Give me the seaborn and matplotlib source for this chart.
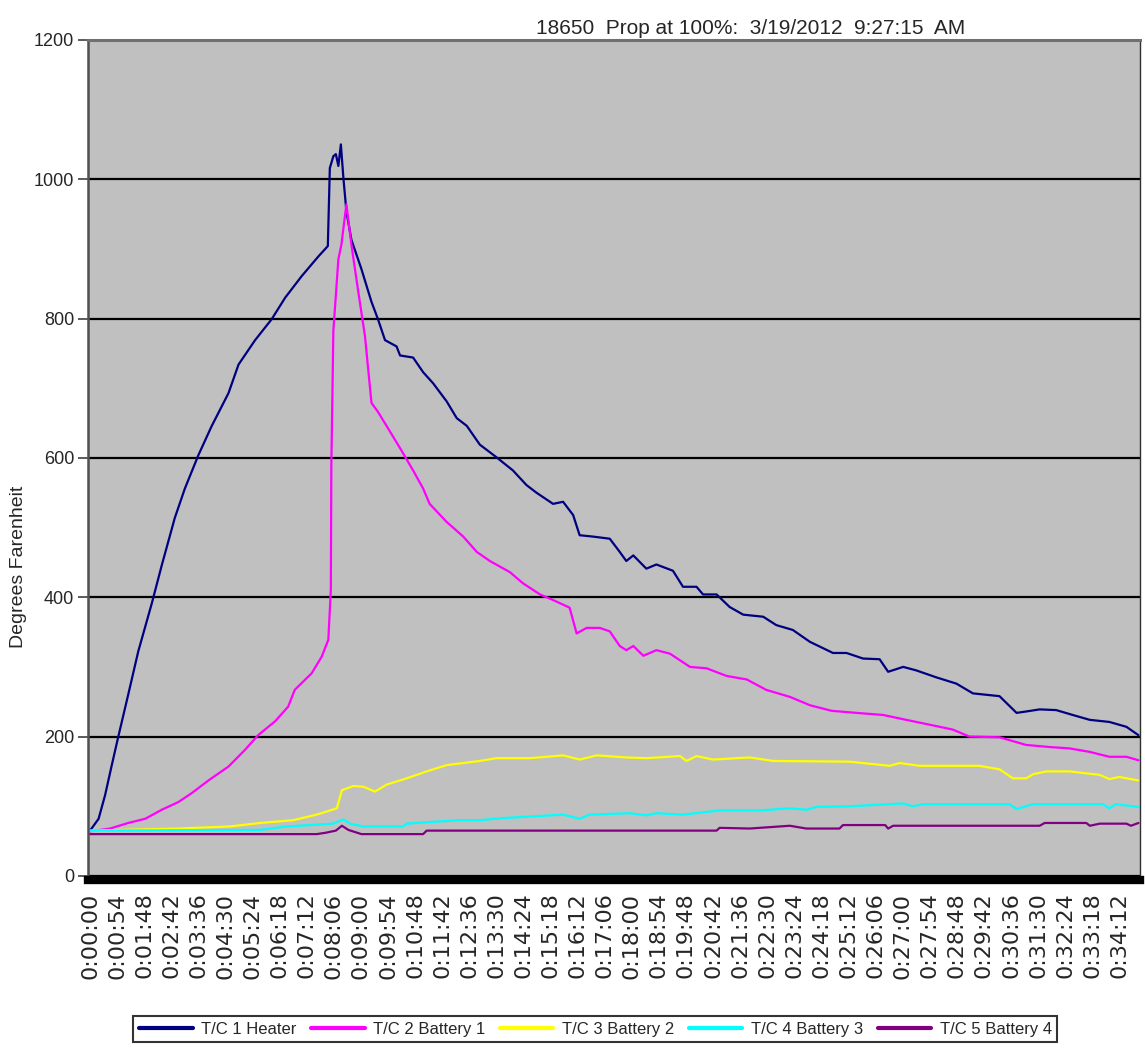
import matplotlib
matplotlib.use("Agg")
import matplotlib.pyplot as plt
import seaborn as sns
import pandas as pd

# readings: elapsed seconds and degrees F
heater_t = [0, 17, 30, 43, 56, 76, 96, 123, 143, 169, 189, 216, 242, 276, 296, 329, 362, 389, 422,
            455, 474, 478, 485, 490, 495, 500, 505, 511, 521, 541, 561, 574, 588, 611, 618, 644, 664,
            684, 711, 731, 751, 777, 810, 843, 870, 890, 923, 943, 963, 976, 1003, 1036, 1056, 1069,
            1083, 1109, 1129, 1162, 1182, 1209, 1222, 1249, 1275, 1302, 1342, 1368, 1401, 1435, 1481,
            1508, 1541, 1574, 1591, 1621, 1647, 1687, 1727, 1760, 1813, 1847, 1866, 1893, 1926, 1959,
            1993, 2032, 2066, 2090]
heater_f = [65, 82, 116, 158, 199, 260, 322, 391, 446, 514, 556, 604, 645, 693, 734, 769, 799, 830, 861,
            889, 904, 1016, 1033, 1036, 1019, 1050, 1002, 954, 913, 871, 824, 799, 769, 760, 747, 744, 723,
            707, 681, 657, 646, 619, 601, 582, 561, 550, 534, 537, 518, 489, 487, 484, 465, 452,
            460, 441, 447, 438, 415, 415, 404, 404, 386, 375, 372, 360, 353, 336, 320,
            320, 312, 311, 293, 300, 295, 285, 276, 262, 258, 234, 236, 239, 238, 231,
            224, 221, 214, 202]

batt1_t = [0, 20, 40, 76, 110, 143, 176, 203, 236, 276, 309, 335, 369, 395, 408, 442, 462, 475, 480, 481,
           485, 495, 501, 511, 521, 535, 548, 561, 574, 591, 618, 644, 664, 677, 711, 744, 771, 797, 837,
           863, 897, 923, 956, 970, 990, 1016, 1036, 1056, 1069, 1083, 1103, 1129, 1156, 1196, 1229, 1269,
           1309, 1348, 1395, 1435, 1478, 1528, 1581, 1627, 1674, 1720, 1753, 1813, 1866, 1913, 1953, 1993,
           2032, 2066, 2090]
batt1_f = [64, 66, 68, 76, 82, 95, 106, 119, 137, 157, 181, 202, 222, 243, 267, 291, 315, 339, 411, 590,
           782, 885, 906, 964, 906, 837, 775, 679, 666, 646, 614, 582, 556, 534, 508, 487, 465, 452, 436,
           420, 404, 396, 385, 348, 356, 356, 351, 330, 324, 330, 316, 324, 319, 300, 298, 287,
           282, 267, 257, 245, 237, 234, 231, 224, 217, 210, 200, 199, 188, 185, 183, 178,
           171, 171, 166]

batt2_t = [0, 176, 279, 339, 405, 452, 492, 502, 525, 545, 568, 591, 631, 671, 711, 777, 810, 877, 943,
           976, 1010, 1069, 1109, 1176, 1189, 1209, 1242, 1315, 1362, 1514, 1594, 1614, 1654, 1773, 1813,
           1840, 1866, 1880, 1906, 1953, 2013, 2032, 2052, 2090]
batt2_f = [65, 68, 71, 76, 80, 88, 97, 123, 129, 128, 121, 131, 140, 150, 159, 165, 169, 169, 173,
           167, 173, 170, 169, 172, 165, 172, 167, 170, 165, 164, 158, 162, 158, 158, 153,
           140, 140, 146, 150, 150, 145, 139, 142, 137]

batt3_t = [0, 339, 392, 484, 505, 518, 545, 624, 631, 671, 737, 777, 824, 943, 976, 996, 1076, 1109,
           1129, 1182, 1255, 1335, 1395, 1428, 1448, 1514, 1621, 1640, 1660, 1833, 1847, 1880, 2019,
           2032, 2045, 2090]
batt3_f = [65, 66, 71, 75, 81, 75, 71, 71, 75, 77, 80, 80, 83, 88, 82, 88, 90, 87,
           90, 88, 94, 94, 97, 95, 99, 100, 104, 100, 103, 103, 96, 103, 103,
           97, 103, 99]

batt4_t = [0, 452, 470, 490, 502, 515, 541, 664, 671, 1249, 1255, 1315, 1395, 1428, 1494, 1501, 1585,
           1591, 1601, 1893, 1903, 1986, 1993, 2013, 2066, 2075, 2090]
batt4_f = [60, 60, 62, 65, 72, 66, 60, 60, 65, 65, 69, 68, 72, 68, 68, 73, 73,
           68, 72, 72, 76, 76, 72, 75, 75, 72, 76]

series_names = ["T/C 1 Heater", "T/C 2 Battery 1", "T/C 3 Battery 2", "T/C 4 Battery 3", "T/C 5 Battery 4"]
series_colors = ["#000080", "#FF00FF", "#FFFF00", "#00FFFF", "#800080"]

tick_seconds = list(range(0, 2053, 54))
tick_labels = ["%d:%02d:%02d" % (s // 3600, (s % 3600) // 60, s % 60) for s in tick_seconds]

frames = []
for name, t, f in zip(series_names,
                      [heater_t, batt1_t, batt2_t, batt3_t, batt4_t],
                      [heater_f, batt1_f, batt2_f, batt3_f, batt4_f]):
    frames.append(pd.DataFrame({"seconds": t, "temp": f, "series": name}))
df = pd.concat(frames, ignore_index=True)

sns.set_theme(style="white")
plt.rcParams['font.family'] = ['Liberation Sans', 'DejaVu Sans']

fig = plt.figure(figsize=(11.45, 10.49), dpi=100)
ax = fig.add_axes([0.0769, 0.165, 0.9187, 0.797])
ax.set_facecolor("#C0C0C0")

sns.lineplot(data=df, x="seconds", y="temp", hue="series", hue_order=series_names,
             palette=dict(zip(series_names, series_colors)), estimator=None,
             sort=False, linewidth=1.6, ax=ax)

# spines first: moving a spine resets the ticks
ax.spines["bottom"].set_linewidth(6)
ax.spines["bottom"].set_color("black")
ax.spines["bottom"].set_position(("outward", 3))
ax.spines["top"].set_linewidth(2.2)
ax.spines["top"].set_color("#707070")
ax.spines["left"].set_linewidth(1.8)
ax.spines["left"].set_color("#505050")
ax.spines["right"].set_linewidth(1.0)
ax.spines["right"].set_color("#303030")

ax.set_xlim(-4, 2093)
ax.set_ylim(0, 1200)
ax.set_yticks(range(0, 1201, 200))
ax.yaxis.grid(True, color="black", linewidth=1.6)
ax.xaxis.grid(False)
ax.set_axisbelow(True)
ax.set_xticks(tick_seconds)
ax.set_xticklabels(tick_labels)
ax.tick_params(axis="x", length=0, pad=9, labelrotation=90, labelsize=16,
               labelfontfamily="DejaVu Sans")
ax.tick_params(axis="y", length=7, width=1.2, color="#404040", labelsize=13, pad=3, left=True)

ax.set_xlabel("")
ax.set_ylabel("Degrees Farenheit", fontsize=14)
ax.yaxis.set_label_coords(-0.058, 0.37)

ax.set_title("18650  Prop at 100%:  3/19/2012  9:27:15  AM", fontsize=15, pad=4,
             family=['Liberation Sans Narrow', 'Liberation Sans', 'DejaVu Sans'], x=0.63)

handles, labels = ax.get_legend_handles_labels()
ax.legend_.remove()
leg = fig.legend(handles, labels, loc="center", bbox_to_anchor=(0.52, 0.019), ncol=5,
                 fontsize=12, frameon=True, fancybox=False, edgecolor="black",
                 handlelength=3.2, columnspacing=0.9, handletextpad=0.5, borderpad=0.35)
leg.get_frame().set_linewidth(1.5)
for line in leg.get_lines():
    line.set_linewidth(3)

plt.savefig("out.png", dpi=100)
